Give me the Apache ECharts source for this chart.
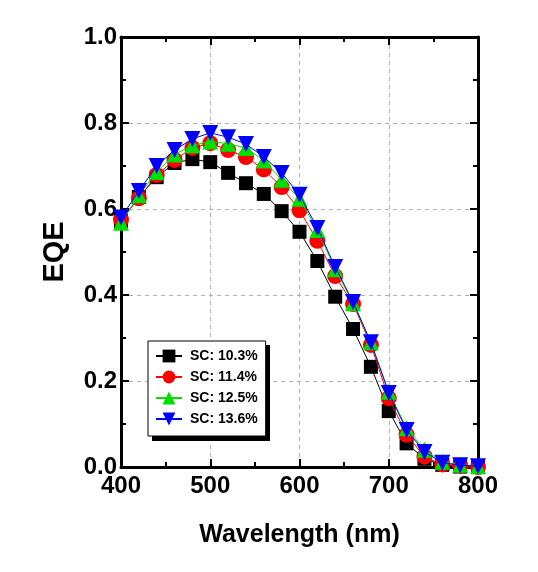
<!DOCTYPE html>
<html><head><meta charset="utf-8">
<script src="https://cdn.jsdelivr.net/npm/echarts@6/dist/echarts.min.js"></script>
<style>html,body{margin:0;padding:0;background:#fff}#c{width:538px;height:572px}</style>
</head><body><div id="c"></div>
<script>
const wavelengths = [400,420,440,460,480,500,520,540,560,580,600,620,640,660,680,700,720,740,760,780,800];
const sc103 = [0.572,0.628,0.674,0.707,0.716,0.709,0.684,0.660,0.635,0.595,0.547,0.479,0.396,0.321,0.233,0.130,0.055,0.019,0.005,0.001,0.000];
const sc114 = [0.575,0.625,0.679,0.714,0.742,0.753,0.737,0.721,0.692,0.651,0.597,0.526,0.444,0.379,0.284,0.160,0.075,0.024,0.006,0.003,0.000];
const sc125 = [0.568,0.632,0.686,0.727,0.748,0.757,0.752,0.742,0.713,0.668,0.624,0.551,0.460,0.381,0.290,0.175,0.090,0.040,0.012,0.005,0.002];
const sc136 = [0.580,0.642,0.700,0.737,0.763,0.777,0.767,0.751,0.721,0.684,0.633,0.556,0.465,0.384,0.290,0.172,0.086,0.035,0.010,0.004,0.002];
const seriesNames = ['SC: 10.3%','SC: 11.4%','SC: 12.5%','SC: 13.6%'];
const xTicks = [400,500,600,700,800];
const yTicks = [0.0,0.2,0.4,0.6,0.8,1.0];

const pair = arr => wavelengths.map((w,i)=>[w,arr[i]]);
const font = '"Liberation Sans",Arial,sans-serif';
const axisCommon = {
  axisLine:{show:true,onZero:false,lineStyle:{color:'#000',width:3}},
  axisTick:{show:true,inside:true,length:8,lineStyle:{color:'#000',width:2}},
  minorTick:{show:true,splitNumber:2,length:5,lineStyle:{color:'#000',width:2}}
};
const chart = echarts.init(document.getElementById('c'));
const styles = [
  {color:'#000000',symbol:'rect',size:14},
  {color:'#ff0000',symbol:'circle',size:16},
  {color:'#00e000',symbol:'triangle',size:16,rotate:0},
  {color:'#0000ff',symbol:'triangle',size:16,rotate:180}
];
const datas = [sc103,sc114,sc125,sc136];
chart.setOption({
  animation:false,
  backgroundColor:'#fff',
  grid:{left:121,right:60,top:37,bottom:105,containLabel:false},
  graphic:[{type:'rect',left:152,top:345,shape:{width:118,height:96},style:{fill:'#000'},z:1}],
  xAxis:[
    Object.assign({type:'value',min:400,max:800,interval:100,position:'bottom',
      name:'Wavelength (nm)',nameLocation:'middle',nameGap:56,
      nameTextStyle:{fontFamily:font,fontWeight:'bold',fontSize:25,color:'#000'},
      axisLabel:{show:true,margin:7,fontFamily:font,fontWeight:'bold',fontSize:24,color:'#000',
        formatter:v=>xTicks.includes(v)?String(v):''},
      splitLine:{show:true,lineStyle:{color:'#b0b0b0',type:[4,4],width:1}}},axisCommon),
    Object.assign({type:'value',min:400,max:800,interval:100,position:'top',
      axisLabel:{show:false},splitLine:{show:false}},axisCommon)
  ],
  yAxis:[
    Object.assign({type:'value',min:0,max:1,interval:0.2,position:'left',
      name:'EQE',nameLocation:'middle',nameGap:52,nameRotate:90,
      nameTextStyle:{fontFamily:font,fontWeight:'bold',fontSize:29,color:'#000'},
      axisLabel:{show:true,margin:4,fontFamily:font,fontWeight:'bold',fontSize:24,color:'#000',
        formatter:v=>v.toFixed(1)},
      splitLine:{show:true,lineStyle:{color:'#b0b0b0',type:[4,4],width:1}}},axisCommon),
    Object.assign({type:'value',min:0,max:1,interval:0.2,position:'right',
      axisLabel:{show:false},splitLine:{show:false}},axisCommon)
  ],
  legend:{
    left:148,top:341,orient:'vertical',z:10,
    data:seriesNames,
    itemWidth:26,itemHeight:16,itemGap:7,
    padding:[8,8,10,7],
    backgroundColor:'#fff',borderColor:'#000',borderWidth:1,borderRadius:0,
    textStyle:{fontFamily:font,fontWeight:'bold',fontSize:14,color:'#000',padding:[0,0,0,3]}
  },
  series: datas.map((d,i)=>({
    name:seriesNames[i],type:'line',data:pair(d),
    symbol:styles[i].symbol,symbolSize:styles[i].size,symbolRotate:styles[i].rotate||0,
    itemStyle:{color:styles[i].color},
    lineStyle:{color:styles[i].color,width:1},
    z:2+i
  }))
});
</script></body></html>
